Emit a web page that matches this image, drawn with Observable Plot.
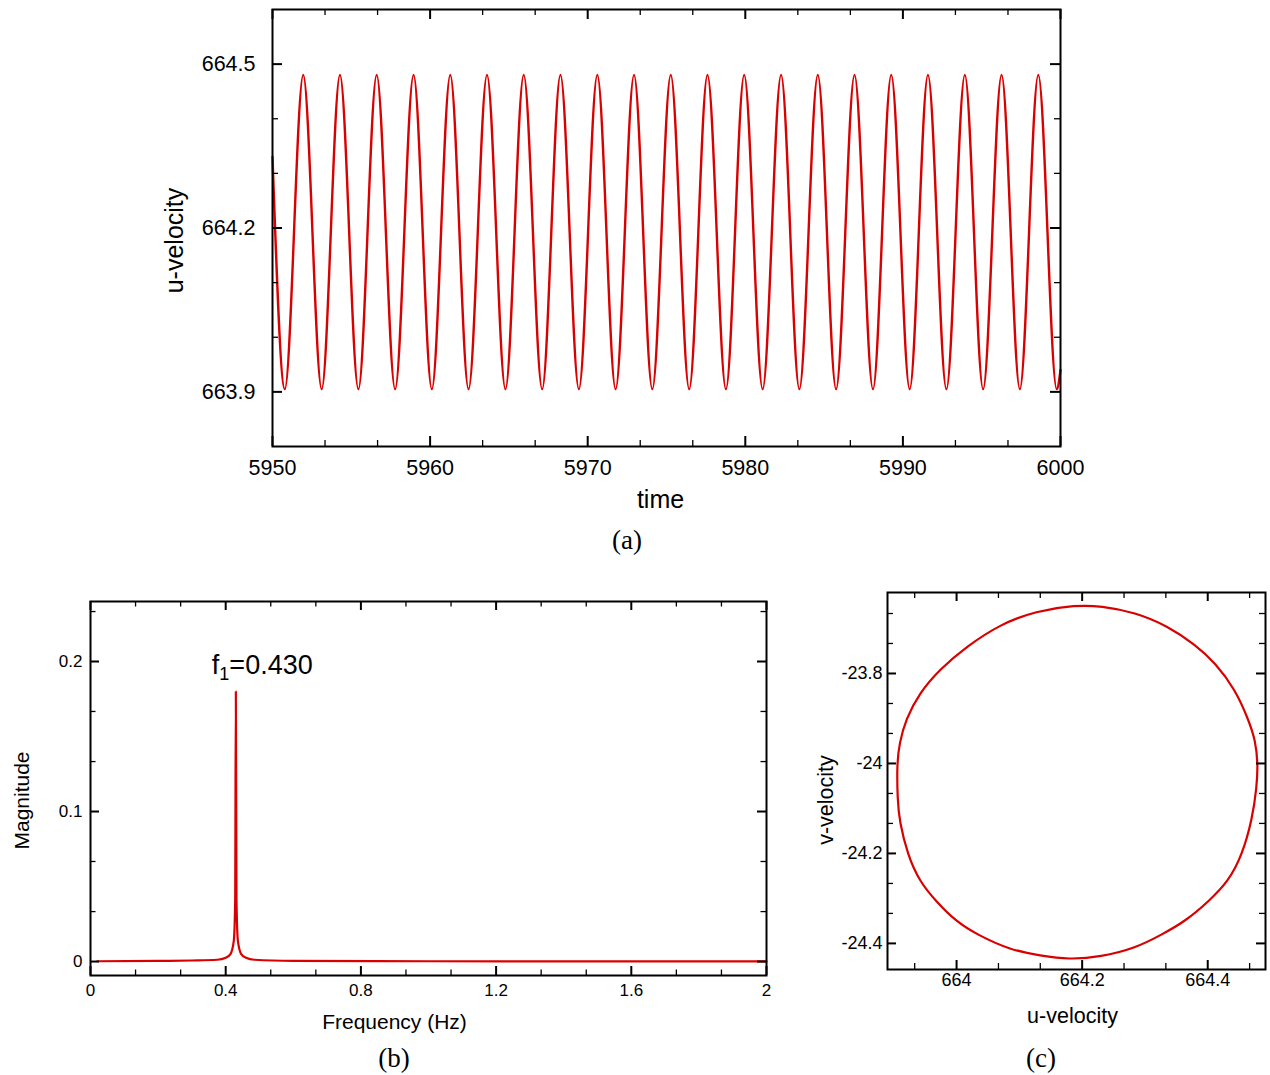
<!DOCTYPE html>
<html><head><meta charset="utf-8">
<script src="https://cdn.jsdelivr.net/npm/d3@7"></script>
<script src="https://cdn.jsdelivr.net/npm/@observablehq/plot@0.6"></script>
<style>
body{margin:0;background:#fff;}
#root{position:relative;width:1270px;height:1075px;overflow:hidden;}
.panel{position:absolute;}
.cap{position:absolute;font-family:"Liberation Serif","DejaVu Serif",serif;font-size:27px;line-height:1;transform:translate(-50%,-50%);color:#000;}
</style></head><body><div id="root"></div>
<script>
// ---------- (a) u-velocity time series: extremes ----------
const timeA = [5950, 5950.78, 5951.95, 5953.12, 5954.28, 5955.45, 5956.61, 5957.78, 5958.95, 5960.11,
  5961.28, 5962.44, 5963.61, 5964.78, 5965.94, 5967.11, 5968.27, 5969.44, 5970.61, 5971.77,
  5972.94, 5974.10, 5975.27, 5976.44, 5977.60, 5978.77, 5979.93, 5981.10, 5982.27, 5983.43,
  5984.60, 5985.76, 5986.93, 5988.10, 5989.26, 5990.43, 5991.59, 5992.76, 5993.93, 5995.09,
  5996.26, 5997.42, 5998.59, 5999.76, 6000];
const uA = [664.33, 663.905, 664.48, 663.905, 664.48, 663.905, 664.48, 663.905, 664.48, 663.905,
  664.48, 663.905, 664.48, 663.905, 664.48, 663.905, 664.48, 663.905, 664.48, 663.905,
  664.48, 663.905, 664.48, 663.905, 664.48, 663.905, 664.48, 663.905, 664.48, 663.905,
  664.48, 663.905, 664.48, 663.905, 664.48, 663.905, 664.48, 663.905, 664.48, 663.905,
  664.48, 663.905, 664.48, 663.905, 663.94];
const xMajA = [5950, 5960, 5970, 5980, 5990, 6000];
const xMinA = [5953.333, 5956.667, 5963.333, 5966.667, 5973.333, 5976.667, 5983.333, 5986.667, 5993.333, 5996.667];
const yMajA = [663.9, 664.2, 664.5];
const yMinA = [664.0, 664.1, 664.3, 664.4];

// ---------- (b) FFT magnitude ----------
const freqB = [0.02, 0.2, 0.3, 0.375, 0.4, 0.414, 0.424, 0.428, 0.430, 0.432, 0.436, 0.446, 0.46, 0.485, 0.6, 1.0, 1.5, 2.0];
const magB  = [0.0002, 0.0004, 0.0007, 0.0012, 0.0025, 0.005, 0.014, 0.04, 0.18, 0.04, 0.014, 0.005, 0.0025, 0.0012, 0.0005, 0.0002, 0.0001, 0.0001];
const peakB = {f: 0.430, m: 0.1975, label: "f1=0.430"};
const xMajB = [0, 0.4, 0.8, 1.2, 1.6, 2];
const xMinB = [0.1333, 0.2667, 0.5333, 0.6667, 0.9333, 1.0667, 1.3333, 1.4667, 1.7333, 1.8667];
const yMajB = [0, 0.1, 0.2];
const yMinB = [0.0333, 0.0667, 0.1333, 0.1667, 0.2333];

// ---------- (c) phase portrait u vs v ----------
const uC = [663.905, 663.909, 663.919, 663.941, 663.973, 664.016, 664.069, 664.126, 664.190, 664.230,
  664.284, 664.337, 664.380, 664.412, 664.444, 664.465, 664.476, 664.480, 664.478, 664.471,
  664.455, 664.433, 664.402, 664.364, 664.326, 664.284, 664.230, 664.178, 664.134, 664.086,
  664.032, 663.999, 663.967, 663.941, 663.922, 663.909, 663.906];
const vC = [-24.000, -23.955, -23.902, -23.843, -23.791, -23.740, -23.691, -23.661, -23.648, -23.650,
  -23.664, -23.695, -23.736, -23.776, -23.836, -23.903, -23.949, -24.001, -24.053, -24.123,
  -24.203, -24.262, -24.306, -24.351, -24.381, -24.411, -24.430, -24.436, -24.427, -24.415,
  -24.380, -24.351, -24.306, -24.262, -24.203, -24.128, -24.082];
const xMajC = [664, 664.2, 664.4];
const xMinC = [663.9333, 664.0667, 664.1333, 664.2667, 664.3333, 664.4667];
const yMajC = [-23.8, -24, -24.2, -24.4];
const yMinC = [-23.6667, -23.7333, -23.8667, -23.9333, -24.0667, -24.1333, -24.2667, -24.3333];

const RED = "#d90000";
const FONT = '"Liberation Sans", Arial, Helvetica, sans-serif';
const fmt = d => String(d);

function frameTicks(xMaj, xMin, yMaj, yMin, W, H, major, minor) {
  const out = [];
  for (const [vals, len, sw] of [[xMaj, major, 2], [xMin, minor, 1.3]]) {
    out.push(Plot.ruleX(vals, {x: d => d, insetTop: H - len, strokeWidth: sw}));
    out.push(Plot.ruleX(vals, {x: d => d, insetBottom: H - len, strokeWidth: sw}));
  }
  for (const [vals, len, sw] of [[yMaj, major, 2], [yMin, minor, 1.3]]) {
    out.push(Plot.ruleY(vals, {y: d => d, insetRight: W - len, strokeWidth: sw}));
    out.push(Plot.ruleY(vals, {y: d => d, insetLeft: W - len, strokeWidth: sw}));
  }
  return out;
}
function xLabel(txt, dx, dy, size) {
  return Plot.text([txt], {frameAnchor: "bottom", textAnchor: "middle", lineAnchor: "middle", dx, dy, text: d => d, fontSize: size});
}
function yLabel(txt, dx, dy, size) {
  return Plot.text([txt], {frameAnchor: "left", rotate: -90, textAnchor: "middle", lineAnchor: "middle", dx, dy, text: d => d, fontSize: size});
}
const baseStyle = {fontFamily: FONT, background: "transparent", overflow: "visible", color: "#000"};

const root = document.getElementById("root");
function place(node, left, top) {
  node.classList.add("panel");
  node.style.left = left + "px";
  node.style.top = top + "px";
  root.appendChild(node);
}

// (a)
const figA = Plot.plot({
  width: 1270, height: 520, marginLeft: 272, marginRight: 210, marginTop: 9, marginBottom: 74,
  style: baseStyle,
  x: {domain: [5950, 6000]}, y: {domain: [663.8, 664.6]},
  marks: [
    Plot.line(timeA, {x: timeA, y: uA, curve: "monotone-x", stroke: RED, strokeWidth: 2.4}),
    ...frameTicks(xMajA, xMinA, yMajA, yMinA, 788, 437, 10, 6),
    Plot.frame({strokeWidth: 2}),
    Plot.axisX(xMajA, {tickSize: 0, tickPadding: 13, fontSize: 21.5, tickFormat: fmt, label: null}),
    Plot.axisY(yMajA, {tickSize: 0, tickPadding: 17, fontSize: 21.5, tickFormat: fmt, label: null}),
    xLabel("time", -6, 53, 25),
    yLabel("u-velocity", -98, 12.5, 25)
  ]
});
place(figA, 0, 0);

// (b)
const figB = Plot.plot({
  width: 800, height: 480, marginLeft: 90, marginRight: 34, marginTop: 41, marginBottom: 65,
  style: baseStyle,
  x: {domain: [0, 2]}, y: {domain: [-0.0093, 0.24]},
  marks: [
    Plot.line(freqB, {x: freqB, y: magB, curve: "monotone-x", stroke: RED, strokeWidth: 2.2}),
    ...frameTicks(xMajB, xMinB, yMajB, yMinB, 676, 374, 9, 5.5),
    Plot.frame({strokeWidth: 2}),
    Plot.axisX(xMajB, {tickSize: 0, tickPadding: 8, fontSize: 17, tickFormat: fmt, label: null}),
    Plot.axisY(yMajB, {tickSize: 0, tickPadding: 8, fontSize: 17, tickFormat: fmt, label: null}),
    Plot.text([peakB], {x: "f", y: "m", text: "label", textAnchor: "start", lineAnchor: "middle", dx: -24, fontSize: 27}),
    xLabel("Frequency (Hz)", -34, 47, 21),
    yLabel("Magnitude", -68, 12, 21)
  ]
});
// subscript for f1
for (const t of figB.querySelectorAll("text")) {
  if (t.textContent === peakB.label) {
    const ns = "http://www.w3.org/2000/svg";
    while (t.firstChild) t.removeChild(t.firstChild);
    t.appendChild(document.createTextNode("f"));
    const s1 = document.createElementNS(ns, "tspan");
    s1.setAttribute("dy", "6.5"); s1.setAttribute("font-size", "18"); s1.textContent = "1";
    const s2 = document.createElementNS(ns, "tspan");
    s2.setAttribute("dy", "-6.5"); s2.textContent = "=0.430";
    t.appendChild(s1); t.appendChild(s2);
  }
}
place(figB, 0, 560);

// (c)
const figC = Plot.plot({
  width: 470, height: 480, marginLeft: 87, marginRight: 5, marginTop: 32, marginBottom: 71,
  style: baseStyle,
  x: {domain: [663.89, 664.492]}, y: {domain: [-24.458, -23.62]},
  marks: [
    Plot.line(uC, {x: uC, y: vC, curve: "basis-closed", stroke: RED, strokeWidth: 2.2}),
    ...frameTicks(xMajC, xMinC, yMajC, yMinC, 378, 377, 9, 6),
    Plot.frame({strokeWidth: 2}),
    Plot.axisX(xMajC, {tickSize: 0, tickPadding: 4, fontSize: 18, tickFormat: fmt, label: null}),
    Plot.axisY(yMajC, {tickSize: 0, tickPadding: 5, fontSize: 18, tickFormat: fmt, label: null}),
    xLabel("u-velocity", -4, 47, 21.5),
    yLabel("v-velocity", -61, 19, 21.5)
  ]
});
place(figC, 800, 560);

// captions
for (const [txt, x, y] of [["(a)", 627, 540], ["(b)", 394, 1058], ["(c)", 1041, 1058]]) {
  const d = document.createElement("div");
  d.className = "cap";
  d.textContent = txt;
  d.style.left = x + "px";
  d.style.top = y + "px";
  root.appendChild(d);
}
</script></body></html>
